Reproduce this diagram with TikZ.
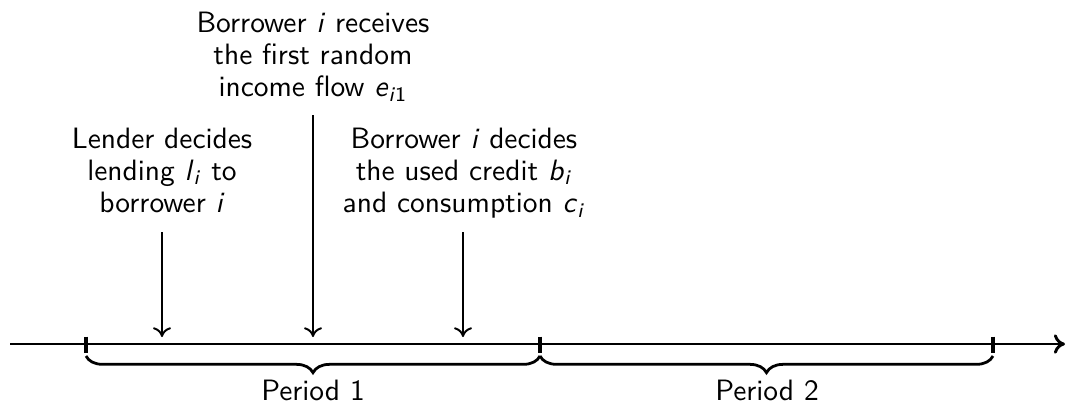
\documentclass[tikz,border=0pt]{standalone}
\usetikzlibrary{decorations.pathreplacing,arrows.meta}
\newcommand{\mv}[1]{\textit{#1}}
\begin{document}
\begin{tikzpicture}[x=0.36pt,y=-0.36pt,
  font=\sffamily\fontsize{10.6}{11.6}\selectfont,
  lbl/.style={align=center,inner sep=0pt,anchor=north},
  axisline/.style={line width=1.05pt,-{To[length=4pt,width=7pt]}},
  evarrow/.style={line width=0.7pt,-{To[length=3.5pt,width=6.5pt]}},
  tickmark/.style={line width=1.5pt},
  bracestyle/.style={line width=1pt,decorate,decoration={brace,mirror,amplitude=6pt}},
  plabel/.style={inner sep=0pt,anchor=base}]
\useasboundingbox (0,0) rectangle (1067,405);
% axis
\coordinate (ax0) at (10,344);
\coordinate (ax1) at (1065,344);
\draw[axisline] (ax0) -- (ax1);
% ticks
\coordinate (t0) at (86,344);
\coordinate (t1) at (540,344);
\coordinate (t2) at (993,344);
\foreach \t in {t0,t1,t2}{\draw[tickmark] ([yshift=7.5*0.36pt]\t) -- ([yshift=-9*0.36pt]\t);}
% braces
\coordinate (b0) at (86,356);
\coordinate (b1) at (540,356);
\coordinate (b2) at (993,356);
\draw[bracestyle] (b0) -- (b1);
\draw[bracestyle] (b1) -- (b2);
\node[plabel] (p1) at (313,400) {Period 1};
\node[plabel] (p2) at (767,400) {Period 2};
% event texts
\node[lbl] (lender) at (162,127) {Lender decides\\lending \mv{l}\textsubscript{\mv{i}} to\\borrower \mv{i}};
\node[lbl] (income) at (313,11) {Borrower \mv{i} receives\\the first random\\income flow \mv{e}\textsubscript{\mv{i}1}};
\node[lbl] (decide) at (464,127) {Borrower \mv{i} decides\\the used credit \mv{b}\textsubscript{\mv{i}}\\and consumption \mv{c}\textsubscript{\mv{i}}};
% arrows
\coordinate (s1) at (162,232); \coordinate (e1) at (162,337);
\coordinate (s2) at (313,115); \coordinate (e2) at (313,337);
\coordinate (s3) at (463,232); \coordinate (e3) at (463,337);
\draw[evarrow] (s1) -- (e1);
\draw[evarrow] (s2) -- (e2);
\draw[evarrow] (s3) -- (e3);
\end{tikzpicture}
\end{document}
